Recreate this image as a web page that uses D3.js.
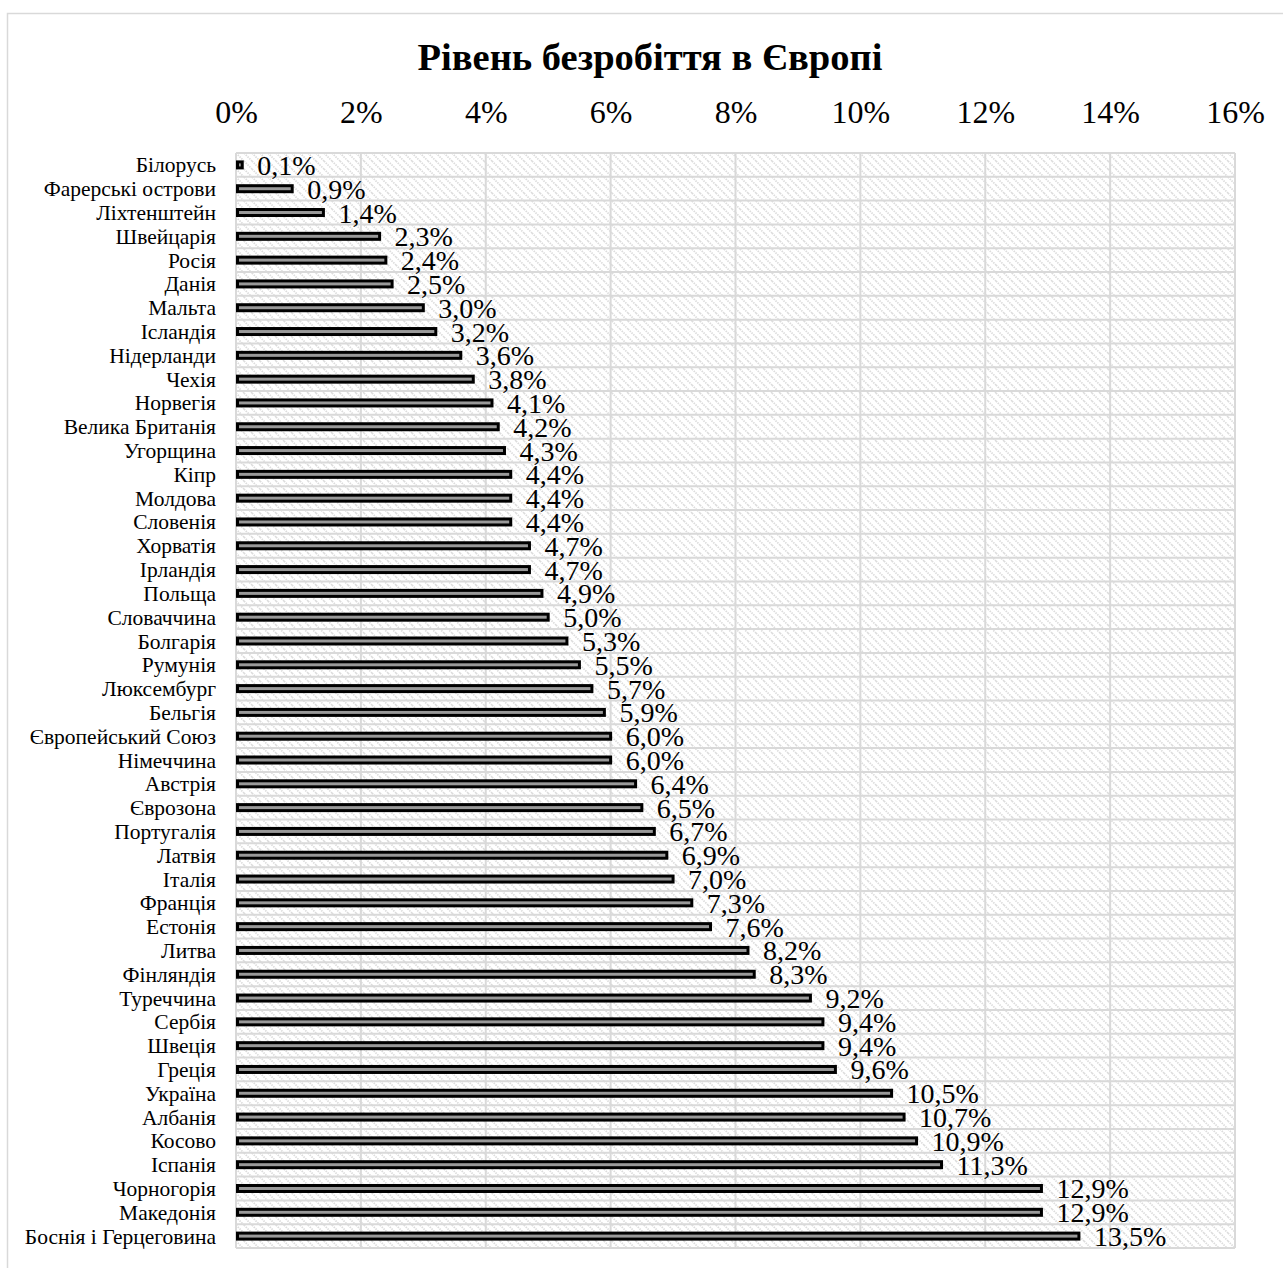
<!DOCTYPE html>
<html>
<head>
<meta charset="utf-8">
<script src="https://cdn.jsdelivr.net/npm/d3@7"></script>
<style>
  body { margin: 0; background: #fff; }
  text { font-family: "Liberation Serif", "Times New Roman", serif; fill: #000; }
</style>
</head>
<body>
<div id="unemployment"></div>
<script>
var countries = ["Білорусь", "Фарерські острови", "Ліхтенштейн", "Швейцарія", "Росія", "Данія",
  "Мальта", "Ісландія", "Нідерланди", "Чехія", "Норвегія", "Велика Британія", "Угорщина", "Кіпр",
  "Молдова", "Словенія", "Хорватія", "Ірландія", "Польща", "Словаччина", "Болгарія", "Румунія",
  "Люксембург", "Бельгія", "Європейський Союз", "Німеччина", "Австрія", "Єврозона", "Португалія",
  "Латвія", "Італія", "Франція", "Естонія", "Литва", "Фінляндія", "Туреччина", "Сербія", "Швеція",
  "Греція", "Україна", "Албанія", "Косово", "Іспанія", "Чорногорія", "Македонія", "Боснія і Герцеговина"];
var rates = [0.1, 0.9, 1.4, 2.3, 2.4, 2.5, 3.0, 3.2, 3.6, 3.8, 4.1, 4.2, 4.3, 4.4, 4.4, 4.4, 4.7, 4.7,
  4.9, 5.0, 5.3, 5.5, 5.7, 5.9, 6.0, 6.0, 6.4, 6.5, 6.7, 6.9, 7.0, 7.3, 7.6, 8.2, 8.3, 9.2, 9.4, 9.4,
  9.6, 10.5, 10.7, 10.9, 11.3, 12.9, 12.9, 13.5];
var xTicks = [0, 2, 4, 6, 8, 10, 12, 14, 16];
var title = "Рівень безробіття в Європі";

var data = countries.map(function(c, i) { return {country: c, rate: rates[i]}; });

var W = 1283, H = 1268,
    margin = {top: 153, right: 48, bottom: 20, left: 236},
    width = 1235 - margin.left,
    height = 1248 - margin.top;

var svg = d3.select("#unemployment").append("svg")
  .attr("width", W)
  .attr("height", H);

// diagonal hatch for the plot area
var defs = svg.append("defs");
var pat = defs.append("pattern")
  .attr("id", "hatch")
  .attr("patternUnits", "userSpaceOnUse")
  .attr("width", 8).attr("height", 8);
pat.append("path")
  .attr("d", "M0,0L8,8M-2,6L2,10M6,-2L10,2")
  .attr("stroke", "#dcdcdc")
  .attr("stroke-width", 1.8)
  .attr("stroke-dasharray", "1.5,1");

// chart border
svg.append("rect")
  .attr("x", 7.5).attr("y", 13.5)
  .attr("width", W + 10).attr("height", H + 10)
  .attr("fill", "none")
  .attr("stroke", "#d9d9d9")
  .attr("stroke-width", 1.5);

svg.append("text")
  .attr("x", 650).attr("y", 70)
  .attr("text-anchor", "middle")
  .style("font-size", "38.5px")
  .style("font-weight", "bold")
  .text(title);

var g = svg.append("g")
  .attr("transform", "translate(" + margin.left + "," + margin.top + ")");

var xScale = d3.scaleLinear().domain([0, 16]).range([0, width]);
var yScale = d3.scaleBand().domain(countries).range([0, height]);

g.append("rect")
  .attr("width", width).attr("height", height)
  .attr("fill", "url(#hatch)");

// vertical gridlines
g.selectAll(".vgrid")
  .data(xTicks)
  .enter().append("line")
  .attr("class", "vgrid")
  .attr("x1", function(d) { return xScale(d); })
  .attr("x2", function(d) { return xScale(d); })
  .attr("y1", 0).attr("y2", height)
  .attr("stroke", "#d9d9d9")
  .attr("stroke-width", 2);

// horizontal lines between categories
var bounds = countries.map(function(c) { return yScale(c); }).concat([height]);
g.selectAll(".hgrid")
  .data(bounds)
  .enter().append("line")
  .attr("class", "hgrid")
  .attr("x1", 0).attr("x2", width)
  .attr("y1", function(d) { return d; })
  .attr("y2", function(d) { return d; })
  .attr("stroke", "#d9d9d9")
  .attr("stroke-width", 2);

// top axis
var xAxis = d3.axisTop(xScale)
  .tickValues(xTicks)
  .tickSize(0)
  .tickFormat(function(d) { return d + "%"; });
var ax = g.append("g")
  .attr("transform", "translate(0,-27)")
  .call(xAxis);
ax.select(".domain").remove();
ax.selectAll("text")
  .attr("dy", 0)
  .style("font-family", "'Liberation Serif', serif")
  .style("font-size", "32px");

// category labels
var yAxis = d3.axisLeft(yScale).tickSize(0).tickPadding(20);
var ay = g.append("g").call(yAxis);
ay.select(".domain").remove();
ay.selectAll("text")
  .attr("dy", "0.35em")
  .style("font-family", "'Liberation Serif', serif")
  .style("font-size", "21.5px");

var barH = 6;
g.selectAll(".bar")
  .data(data)
  .enter().append("rect")
  .attr("class", "bar")
  .attr("x", 1.5)
  .attr("y", function(d) { return yScale(d.country) + yScale.bandwidth() / 2 - barH / 2; })
  .attr("width", function(d) { return Math.max(xScale(d.rate) - 1.5, 2); })
  .attr("height", barH)
  .attr("fill", "#999999")
  .attr("stroke", "#000")
  .attr("stroke-width", 3);

g.selectAll(".lbl")
  .data(data)
  .enter().append("text")
  .attr("class", "lbl")
  .attr("x", function(d) { return xScale(d.rate) + 15; })
  .attr("y", function(d) { return yScale(d.country) + yScale.bandwidth() / 2 + 10; })
  .style("font-size", "28px")
  .text(function(d) { return d.rate.toFixed(1).replace(".", ",") + "%"; });
</script>
</body>
</html>
